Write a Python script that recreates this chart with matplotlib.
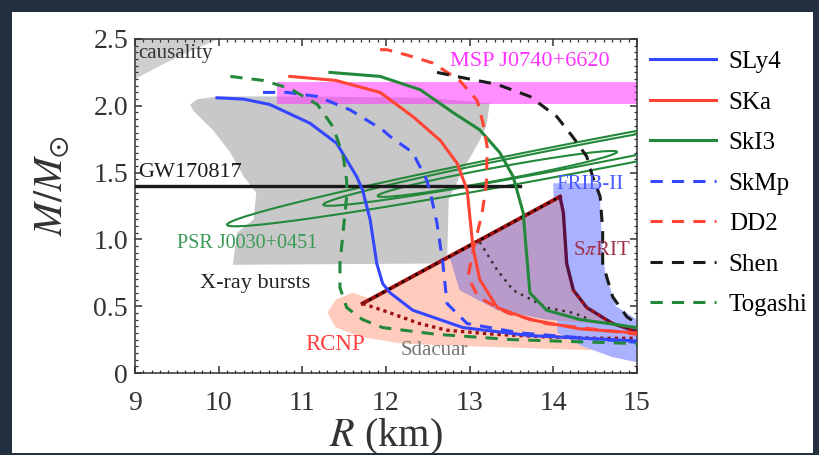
import numpy as np
import matplotlib
matplotlib.use("Agg")
import matplotlib.pyplot as plt
from matplotlib.patches import Polygon, Rectangle

plt.rcParams['font.family'] = ['Liberation Serif', 'DejaVu Serif']
plt.rcParams['mathtext.fontset'] = 'stix'

BLUE = "#3447ff"
RED = "#ff4433"
GREEN = "#23883a"
BLACK = "#1a1a1a"

# Mass-radius curves for each EoS (R in km, M in solar masses)
sly4_R = [9.98, 10.3, 10.61, 11.09, 11.41, 11.65, 11.72, 11.81, 11.89, 11.96, 12.05, 12.32, 12.92, 13.72, 15.0]
sly4_M = [2.06, 2.05, 2.01, 1.87, 1.72, 1.47, 1.37, 1.15, 0.82, 0.67, 0.60, 0.47, 0.34, 0.28, 0.24]

ska_R = [10.85, 11.4, 11.93, 12.32, 12.65, 12.85, 12.97, 13.04, 13.12, 13.33, 13.72, 14.32, 15.0]
ska_M = [2.22, 2.19, 2.10, 1.92, 1.74, 1.57, 1.37, 0.94, 0.70, 0.49, 0.40, 0.33, 0.30]

ski3_R = [11.33, 11.93, 12.41, 12.80, 13.12, 13.36, 13.52, 13.64, 13.69, 13.72, 13.92, 14.32, 15.0]
ski3_M = [2.25, 2.22, 2.12, 1.95, 1.82, 1.65, 1.47, 1.20, 0.82, 0.60, 0.47, 0.40, 0.34]

skmp_R = [10.53, 10.82, 11.18, 11.57, 11.96, 12.05, 12.32, 12.49, 12.53, 12.61, 12.68, 12.73, 12.97, 13.6, 15.0]
skmp_M = [2.10, 2.10, 2.07, 1.97, 1.82, 1.77, 1.65, 1.44, 1.35, 1.12, 0.82, 0.52, 0.37, 0.30, 0.23]

dd2_R = [11.93, 12.01, 12.25, 12.56, 12.88, 13.09, 13.16, 13.21, 13.20, 13.15, 13.05, 12.98, 13.10, 13.45, 13.92, 15.0]
dd2_M = [2.42, 2.42, 2.38, 2.32, 2.19, 2.04, 1.87, 1.69, 1.42, 1.20, 0.94, 0.72, 0.57, 0.45, 0.37, 0.29]

shen_R = [12.61, 12.92, 13.33, 13.72, 14.04, 14.23, 14.40, 14.47, 14.56, 14.59, 14.59, 14.71, 14.88, 15.0]
shen_M = [2.25, 2.21, 2.16, 2.07, 1.92, 1.77, 1.62, 1.47, 1.32, 1.07, 0.82, 0.57, 0.42, 0.37]

togashi_R = [10.14, 10.53, 10.85, 11.18, 11.37, 11.49, 11.53, 11.53, 11.49, 11.45, 11.45, 11.53, 11.72, 11.96, 12.6, 13.5, 15.0]
togashi_M = [2.22, 2.19, 2.13, 2.01, 1.84, 1.62, 1.44, 1.32, 1.07, 0.82, 0.64, 0.49, 0.40, 0.34, 0.29, 0.25, 0.22]

# Observational / experimental regions
causality_R = [9.0, 9.0, 9.3, 9.7, 10.0]
causality_M = [2.5, 2.2, 2.3, 2.42, 2.5]

xray_R = [9.66, 9.75, 10.0, 11.0, 12.5, 13.24, 13.2, 13.12, 12.92, 12.75, 12.73, 10.17, 10.22, 10.42, 10.45, 10.3, 10.14, 9.93, 9.7]
xray_M = [2.01, 2.05, 2.07, 2.07, 2.06, 2.02, 1.85, 1.74, 1.52, 1.30, 0.82, 0.81, 1.05, 1.15, 1.35, 1.47, 1.65, 1.82, 1.96]

msp_R = [10.7, 15.0]
msp_M = [2.01, 2.18]

gw_M = 1.4
gw_R = [9.0, 13.6]

# PSR J0030+0451 credible contours: centre R, centre M, half-length in R, slope, half-thickness in M
psr_R0 = [14.6, 14.3, 13.33]
psr_M0 = [1.65, 1.626, 1.49]
psr_a = [4.5, 3.05, 1.43]
psr_slope = [0.12, 0.12, 0.115]
psr_h = [0.115, 0.08, 0.05]

spirit_top_R = [11.72, 14.08]
spirit_top_M = [0.52, 1.32]
spirit_right_R = [14.08, 14.12, 14.16, 14.24, 14.40, 14.71, 15.0]
spirit_right_M = [1.32, 1.20, 0.82, 0.62, 0.49, 0.37, 0.31]
spirit_low_R = [11.72, 12.05, 12.4, 12.73, 13.3, 13.92, 14.5, 15.0]
spirit_low_M = [0.52, 0.45, 0.37, 0.32, 0.29, 0.27, 0.26, 0.26]
spirit_inner_R = [13.12, 13.33, 13.52, 13.92, 14.24, 14.4]
spirit_inner_M = [0.98, 0.77, 0.62, 0.49, 0.45, 0.41]
purple_R = [12.76, 14.08, 14.12, 14.16, 14.24, 14.40, 14.71, 14.47, 13.92, 13.33, 12.88]
purple_M = [0.87, 1.32, 1.20, 0.82, 0.62, 0.49, 0.37, 0.37, 0.40, 0.47, 0.62]

rcnp_R = [11.3, 11.4, 11.6, 11.8, 14.08, 14.16, 14.4, 14.71, 15.0, 15.0, 14.0, 13.0, 12.2, 11.7, 11.4]
rcnp_M = [0.45, 0.55, 0.60, 0.56, 1.32, 0.82, 0.49, 0.37, 0.31, 0.16, 0.18, 0.20, 0.22, 0.27, 0.34]

frib_R = [14.0, 14.55, 14.58, 14.62, 14.75, 15.0, 15.0, 14.7, 14.35, 14.05]
frib_M = [1.42, 1.42, 1.0, 0.75, 0.5, 0.40, 0.08, 0.12, 0.20, 0.30]

fig = plt.figure(figsize=(8.2, 4.55), dpi=100)
fig.patch.set_facecolor("#22303f")
fig.patches.append(Rectangle((0.0146, 0.0044), 0.977, 0.969, transform=fig.transFigure,
                             facecolor="white", edgecolor="none", zorder=-10))
ax = fig.add_axes([0.1646, 0.1802, 0.6122, 0.7341])
ax.set_facecolor("white")

# shaded regions
ax.add_patch(Polygon(np.column_stack([causality_R, causality_M]), closed=True, facecolor="#cfcfcf", edgecolor="none", zorder=1))
ax.add_patch(Polygon(np.column_stack([xray_R, xray_M]), closed=True, facecolor="#c8c8c8", edgecolor="none", zorder=1))
ax.fill_between(msp_R, msp_M[0], msp_M[1], color="#ff33ff", alpha=0.55, linewidth=0, zorder=2)
ax.add_patch(Polygon(np.column_stack([rcnp_R, rcnp_M]), closed=True, facecolor="#ffcbbd", edgecolor="none", zorder=2))
ax.add_patch(Polygon(np.column_stack([frib_R, frib_M]), closed=True, facecolor="#aab2ff", edgecolor="none", zorder=2))
ax.add_patch(Polygon(np.column_stack([purple_R, purple_M]), closed=True, facecolor="#b89acb", edgecolor="none", zorder=3))

# NICER contours
t = np.linspace(0, 2 * np.pi, 300)
for R0, M0, a, s, h in zip(psr_R0, psr_M0, psr_a, psr_slope, psr_h):
    ax.plot(R0 + a * np.cos(t), M0 + a * s * np.cos(t) + h * np.sin(t), color=GREEN, lw=1.5, zorder=4)

# GW170817 mass
ax.plot(gw_R, [gw_M, gw_M], color=BLACK, lw=2.4, zorder=4)

# SpiRIT boundaries
ax.plot(spirit_top_R, spirit_top_M, color="#a01010", lw=2.8, zorder=5)
ax.plot(spirit_top_R, spirit_top_M, color="black", lw=1.8, ls=(0, (1, 2)), zorder=6)
ax.plot(spirit_right_R, spirit_right_M, color="#5a1040", lw=2.4, zorder=5)
ax.plot(spirit_right_R[3:], spirit_right_M[3:], color="#b01010", lw=2.0, ls=(0, (1, 1.5)), zorder=6)
ax.plot(spirit_low_R, spirit_low_M, color="#a01010", lw=2.4, ls=(0, (1, 1.2)), zorder=6)
ax.plot(spirit_inner_R, spirit_inner_M, color="#333333", lw=1.8, ls=(0, (1, 2)), zorder=6)

# EoS curves
lw = 2.2
ax.plot(sly4_R, sly4_M, color=BLUE, lw=lw, label="SLy4", zorder=7)
ax.plot(ska_R, ska_M, color=RED, lw=lw, label="SKa", zorder=7)
ax.plot(ski3_R, ski3_M, color=GREEN, lw=lw, label="SkI3", zorder=7)
ax.plot(skmp_R, skmp_M, color=BLUE, lw=lw, ls=(0, (4, 3)), label="SkMp", zorder=7)
ax.plot(dd2_R, dd2_M, color=RED, lw=lw, ls=(0, (4, 3)), label="DD2", zorder=7)
ax.plot(shen_R, shen_M, color=BLACK, lw=lw, ls=(0, (4, 3)), label="Shen", zorder=7)
ax.plot(togashi_R, togashi_M, color=GREEN, lw=lw, ls=(0, (4, 3)), label="Togashi", zorder=7)

# region labels
ax.text(9.04, 2.39, "causality", fontsize=15, color="#333333", va="center", zorder=8)
ax.text(12.76, 2.33, "MSP J0740+6620", fontsize=16, color="#ff33ff", va="center", zorder=8)
ax.text(9.04, 1.5, "GW170817", fontsize=16, color=BLACK, va="center", zorder=8)
ax.text(9.5, 0.97, "PSR J0030+0451", fontsize=14.5, color="#3a9a55", va="center", zorder=8)
ax.text(9.78, 0.67, "X-ray bursts", fontsize=16, color="#222222", va="center", zorder=8)
ax.text(11.03, 0.21, "RCNP", fontsize=16.5, color="#ff4040", va="center", zorder=8)
ax.text(12.17, 0.17, "Sdacuar", fontsize=15, color="#777777", va="center", zorder=8)
ax.text(14.23, 0.92, r"S$\pi$RIT", fontsize=15, color="#a0304a", va="center", zorder=8)
ax.text(14.04, 1.41, "FRIB-II", fontsize=15, color="#4a5cff", va="center", zorder=8)

ax.set_xlim(9, 15)
ax.set_ylim(0, 2.5)
ax.set_xticks(np.arange(9, 16, 1))
ax.set_yticks([0, 0.5, 1.0, 1.5, 2.0, 2.5])
ax.set_yticklabels(["0", "0.5", "1.0", "1.5", "2.0", "2.5"])
ax.set_xticks(np.arange(9, 15.01, 0.1), minor=True)
ax.set_yticks(np.arange(0, 2.501, 0.05), minor=True)
ax.tick_params(which="both", direction="in", top=True, right=True, labelsize=20, colors="#333333")
ax.tick_params(which="major", length=5, width=1.1)
ax.tick_params(which="minor", length=2.5, width=0.9)
ax.tick_params(axis="x", pad=13)
ax.tick_params(axis="y", pad=5)
for sp in ax.spines.values():
    sp.set_color("#333333")
    sp.set_linewidth(1.1)
ax.set_xlabel(r"$R$ (km)", fontsize=29, color="#333333")
ax.set_ylabel(r"$M/M_{\odot}$", fontsize=29, color="#333333")
ax.xaxis.set_label_coords(0.5, -0.13)
ax.yaxis.set_label_coords(-0.125, 0.56)

ax.legend(loc="upper left", bbox_to_anchor=(1.026, 0.965), frameon=False, fontsize=18,
          handlelength=2.65, labelspacing=0.72, handletextpad=0.5, borderaxespad=0, borderpad=0)

fig.savefig("out.png", dpi=100, facecolor=fig.get_facecolor())
